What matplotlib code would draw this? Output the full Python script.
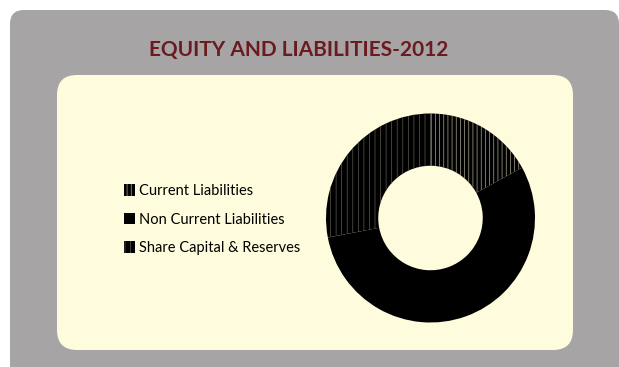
import matplotlib
matplotlib.use("Agg")
import matplotlib.pyplot as plt
from matplotlib.patches import FancyBboxPatch

# shares of the 2012 balance sheet (percent)
categories = ["Current Liabilities", "Non Current Liabilities", "Share Capital & Reserves"]
shares = [17, 55, 28]
hatches = ["||||", "", "|||"]
hatch_cols = ["#a9a68c", "#000000", "#5c5b4e"]

W, H = 619, 367
plt.rcParams["hatch.linewidth"] = 0.5
fig = plt.figure(figsize=(W / 100, H / 100), dpi=100)
fig.patch.set_facecolor("white")

bg = fig.add_axes([0, 0, 1, 1])
bg.set_xlim(0, W)
bg.set_ylim(H, 0)
bg.axis("off")

# grey outer card and cream inner panel
bg.add_patch(FancyBboxPatch((10, 10), 609, 380, boxstyle="round,pad=0,rounding_size=14",
                            fc="#a6a4a5", ec="none"))
bg.add_patch(FancyBboxPatch((57, 75), 516, 275, boxstyle="round,pad=0,rounding_size=20",
                            fc="#fefcdc", ec="none"))
bg.text(299, 50, "EQUITY AND LIABILITIES-2012", ha="center", va="center",
        fontsize=15, fontweight="bold", color="#6b1a1f", family="Lato")

# donut
cx, cy, r = 430.5, 218, 104.5
ax = fig.add_axes([(cx - r) / W, (H - cy - r) / H, 2 * r / W, 2 * r / H])
wedges, _ = ax.pie(shares, startangle=90, counterclock=False, radius=1,
                   colors=["black"] * 3,
                   wedgeprops=dict(width=0.5, linewidth=0))
for w, h, hc in zip(wedges, hatches, hatch_cols):
    w.set_hatch(h)
    w.set_edgecolor(hc)
    w.set_linewidth(0)
ax.set_xlim(-1, 1)
ax.set_ylim(-1, 1)
ax.set_aspect("equal")
ax.axis("off")

fig.legend(wedges, categories, loc="center left", bbox_to_anchor=(117 / W, 1 - 219.5 / H),
           frameon=False, handlelength=0.75, handleheight=0.85,
           handletextpad=0.25, labelspacing=1.0, borderpad=0,
           prop={"family": "Lato", "size": 10.5})

fig.savefig("out.png", dpi=100)
